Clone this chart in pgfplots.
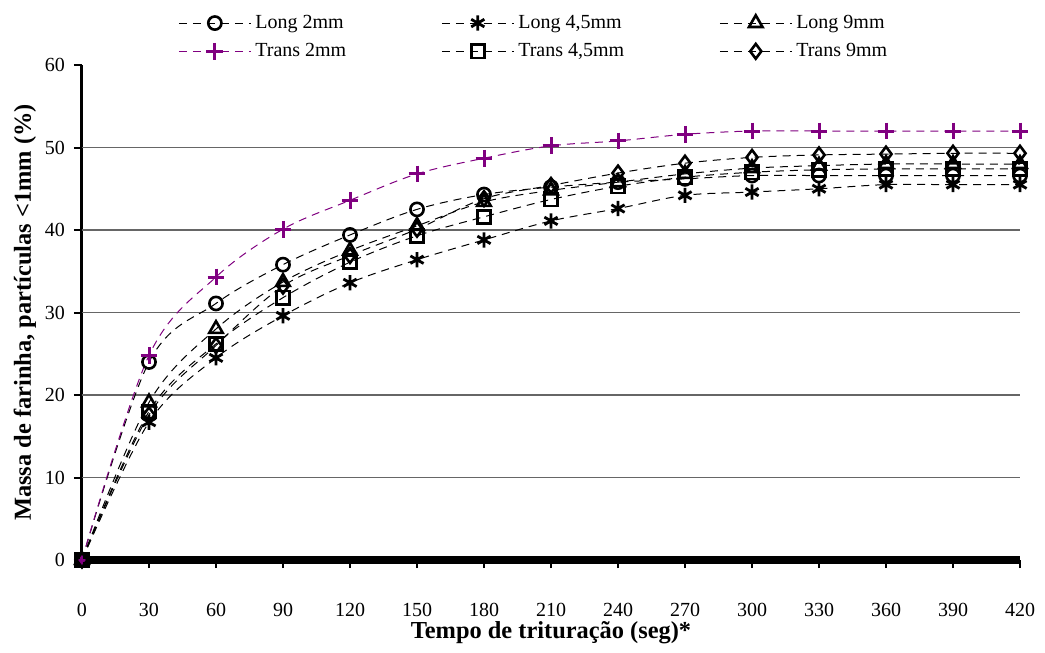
\documentclass[border=0pt]{standalone}
\usepackage{fontspec}
\setmainfont{Liberation Serif}
\usepackage{pgfplots}
\pgfplotsset{compat=1.18}
\definecolor{expurple}{HTML}{800080}
\begin{document}
\begin{tikzpicture}
\begin{axis}[
  name=ax,
  scale only axis,
  width=469pt, height=247.5pt,
  xmin=0, xmax=420, ymin=0, ymax=60,
  axis lines*=left,
  x axis line style={line width=4pt},
  y axis line style={line width=1.5pt},
  xtick={0,30,...,420},
  ytick={0,10,...,60},
  extra y ticks={10,20,30,40,50},
  extra y tick style={grid=major, major tick length=0pt, yticklabels={}},
  grid style={black!60, line width=0.7pt},
  tick align=outside,
  major tick length=4pt,
  tick style={black, line width=1pt},
  font=\fontsize{10}{12}\selectfont,
  /pgf/number format/assume math mode=true,
  xticklabel style={yshift=-14pt},
  yticklabel style={xshift=-1pt},
  xlabel={\textbf{Tempo de trituração (seg)*}},
  ylabel={\textbf{Massa de farinha, partículas <1mm (\%)}},
  xlabel style={at={(axis description cs:0.5,-0.147)}, anchor=center, font=\fontsize{12.2}{14}\selectfont},
  ylabel style={at={(axis description cs:-0.0608,0.5)}, anchor=center, font=\fontsize{12.2}{14}\selectfont},
  clip=false,
  every axis plot/.append style={smooth, tension=0.55, line width=0.5pt, dash pattern=on 4pt off 3pt},
  legend columns=3,
  legend cell align=left,
  legend image code/.code={\draw[#1, mark repeat=2, mark phase=2] plot coordinates {(0pt,0pt) (18pt,0pt) (36pt,0pt)};},
  legend style={draw=none, fill=none, inner sep=0pt, at={(axis description cs:0.1023,1.11)}, anchor=north west,
    font=\fontsize{10}{12}\selectfont, row sep=2pt,
    /tikz/every even column/.append style={column sep=45.5pt}},
]
\addplot[black, mark=o, mark size=3.3pt, mark options={solid, line width=1.3pt}] coordinates {
(0,0) (30,24.0) (60,31.1) (90,35.8) (120,39.4) (150,42.5) (180,44.3) (210,45.2) (240,45.8) (270,46.2) (300,46.6) (330,46.6) (360,46.6) (390,46.6) (420,46.6)};
\addlegendentry{Long 2mm}
\addplot[black, mark=asterisk, mark size=3.8pt, mark options={solid, line width=1.4pt}] coordinates {
(0,0) (30,16.7) (60,24.5) (90,29.6) (120,33.6) (150,36.4) (180,38.8) (210,41.1) (240,42.6) (270,44.2) (300,44.6) (330,45.0) (360,45.5) (390,45.5) (420,45.5)};
\addlegendentry{Long 4,5mm}
\addplot[black, mark=triangle, mark size=3.9pt, mark options={solid, line width=1.3pt}] coordinates {
(0,0) (30,19.1) (60,28.0) (90,33.7) (120,37.5) (150,40.5) (180,43.4) (210,44.8) (240,45.8) (270,46.8) (300,47.5) (330,47.8) (360,48.0) (390,48.0) (420,48.0)};
\addlegendentry{Long 9mm}
\addplot[expurple, mark=+, mark size=4.2pt, mark options={solid, line width=1.5pt}] coordinates {
(0,0) (30,24.8) (60,34.3) (90,40.1) (120,43.6) (150,46.8) (180,48.7) (210,50.2) (240,50.8) (270,51.6) (300,52.0) (330,52.0) (360,52.0) (390,52.0) (420,52.0)};
\addlegendentry{Trans 2mm}
\addplot[black, mark=square, mark size=3.3pt, mark options={solid, line width=1.3pt}] coordinates {
(0,0) (30,18.0) (60,26.2) (90,31.8) (120,36.1) (150,39.3) (180,41.6) (210,43.7) (240,45.3) (270,46.4) (300,47.0) (330,47.3) (360,47.4) (390,47.4) (420,47.4)};
\addlegendentry{Trans 4,5mm}
\addplot[black, mark=diamond, mark size=3.7pt, mark options={solid, line width=1.3pt}] coordinates {
(0,0) (30,17.6) (60,26.0) (90,33.2) (120,36.9) (150,40.1) (180,43.8) (210,45.4) (240,46.9) (270,48.1) (300,48.8) (330,49.1) (360,49.2) (390,49.3) (420,49.3)};
\addlegendentry{Trans 9mm}
\end{axis}
\pgfresetboundingbox
\path[use as bounding box] ([shift={(-41pt,-46pt)}]ax.south west) rectangle ([shift={(12.5pt,32.5pt)}]ax.north east);
\end{tikzpicture}
\end{document}
